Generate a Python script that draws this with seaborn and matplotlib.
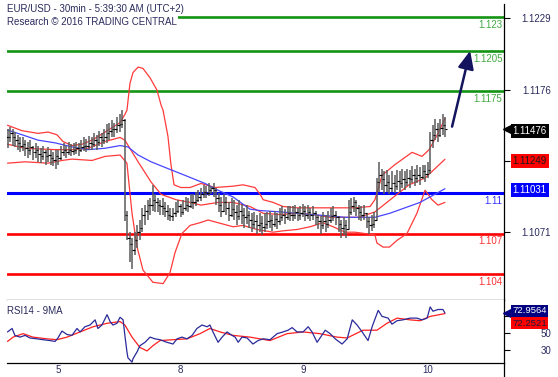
import numpy as np
import pandas as pd
import matplotlib
matplotlib.use("Agg")
import matplotlib.pyplot as plt
import seaborn as sns
from matplotlib.transforms import blended_transform_factory, ScaledTranslation

sns.set_theme(style="white")
plt.rcParams['font.family'] = ['Liberation Sans', 'DejaVu Sans']

# ---- 30 min bars, EUR/USD (bar index 0 = Aug 4 15:00) ----
bar_high = [
    1.1147, 1.1149, 1.1147, 1.1145, 1.1143, 1.1141, 1.1141, 1.1139, 1.1138, 1.1139,
    1.1135, 1.1137, 1.1135, 1.1133, 1.1135, 1.1132, 1.1134, 1.1132, 1.1130, 1.1132,
    1.1132, 1.1135, 1.1137, 1.1135, 1.1138, 1.1136, 1.1137, 1.1138, 1.1137, 1.1139,
    1.1141, 1.1140, 1.1142, 1.1141, 1.1144, 1.1143, 1.1146, 1.1144, 1.1147, 1.1151,
    1.1152, 1.1154, 1.1152, 1.1156, 1.1158, 1.1161, 1.1155, 1.1087, 1.1071, 1.1067,
    1.1071, 1.1076, 1.1080, 1.1089, 1.1091, 1.1095, 1.1096, 1.1106, 1.1099, 1.1096,
    1.1095, 1.1096, 1.1093, 1.1091, 1.1089, 1.1089, 1.1093, 1.1095, 1.1092, 1.1095,
    1.1097, 1.1096, 1.1099, 1.1099, 1.1101, 1.1102, 1.1104, 1.1106, 1.1105, 1.1107,
    1.1105, 1.1107, 1.1104, 1.1100, 1.1097, 1.1099, 1.1097, 1.1093, 1.1096, 1.1095,
    1.1091, 1.1095, 1.1092, 1.1089, 1.1091, 1.1087, 1.1085, 1.1086, 1.1084, 1.1085,
    1.1083, 1.1085, 1.1086, 1.1087, 1.1084, 1.1087, 1.1085, 1.1089, 1.1090, 1.1088,
    1.1090, 1.1090, 1.1090, 1.1091, 1.1089, 1.1090, 1.1092, 1.1090, 1.1091, 1.1089,
    1.1090, 1.1087, 1.1084, 1.1083, 1.1086, 1.1084, 1.1087, 1.1089, 1.1090, 1.1087,
    1.1083, 1.1080, 1.1082, 1.1080, 1.1095, 1.1096, 1.1097, 1.1095, 1.1091, 1.1090,
    1.1091, 1.1085, 1.1082, 1.1084, 1.1086, 1.1111, 1.1123, 1.1118, 1.1116, 1.1117,
    1.1113, 1.1116, 1.1113, 1.1117, 1.1116, 1.1118, 1.1116, 1.1118, 1.1117, 1.1120,
    1.1118, 1.1121, 1.1119, 1.1121, 1.1121, 1.1123, 1.1145, 1.1150, 1.1155, 1.1152,
    1.1155, 1.1158, 1.1156,
]
bar_low = [
    1.1133, 1.1138, 1.1135, 1.1134, 1.1132, 1.1130, 1.1131, 1.1127, 1.1126, 1.1128,
    1.1124, 1.1126, 1.1123, 1.1122, 1.1124, 1.1121, 1.1123, 1.1121, 1.1120, 1.1118,
    1.1121, 1.1124, 1.1127, 1.1126, 1.1128, 1.1127, 1.1128, 1.1129, 1.1127, 1.1130,
    1.1131, 1.1130, 1.1132, 1.1132, 1.1134, 1.1132, 1.1135, 1.1134, 1.1136, 1.1137,
    1.1139, 1.1141, 1.1141, 1.1144, 1.1145, 1.1148, 1.1079, 1.1065, 1.1049, 1.1044,
    1.1054, 1.1059, 1.1065, 1.1071, 1.1076, 1.1080, 1.1084, 1.1087, 1.1086, 1.1086,
    1.1084, 1.1084, 1.1082, 1.1080, 1.1079, 1.1079, 1.1082, 1.1085, 1.1082, 1.1084,
    1.1087, 1.1086, 1.1089, 1.1088, 1.1090, 1.1093, 1.1094, 1.1096, 1.1096, 1.1098,
    1.1099, 1.1097, 1.1091, 1.1086, 1.1082, 1.1086, 1.1084, 1.1079, 1.1082, 1.1080,
    1.1076, 1.1080, 1.1077, 1.1074, 1.1077, 1.1074, 1.1071, 1.1073, 1.1070, 1.1071,
    1.1069, 1.1071, 1.1073, 1.1074, 1.1072, 1.1075, 1.1073, 1.1076, 1.1079, 1.1077,
    1.1080, 1.1079, 1.1079, 1.1081, 1.1079, 1.1080, 1.1082, 1.1079, 1.1081, 1.1079,
    1.1080, 1.1076, 1.1073, 1.1070, 1.1073, 1.1071, 1.1074, 1.1078, 1.1079, 1.1076,
    1.1071, 1.1067, 1.1069, 1.1067, 1.1073, 1.1084, 1.1086, 1.1083, 1.1080, 1.1079,
    1.1080, 1.1074, 1.1070, 1.1072, 1.1074, 1.1080, 1.1101, 1.1102, 1.1099, 1.1101,
    1.1099, 1.1101, 1.1100, 1.1102, 1.1101, 1.1104, 1.1102, 1.1105, 1.1104, 1.1107,
    1.1105, 1.1107, 1.1106, 1.1110, 1.1108, 1.1111, 1.1114, 1.1133, 1.1139, 1.1138,
    1.1141, 1.1143, 1.1141,
]
bar_close = [
    1.1141, 1.1144, 1.1141, 1.1139, 1.1137, 1.1135, 1.1136, 1.1133, 1.1132, 1.1134,
    1.1130, 1.1132, 1.1129, 1.1127, 1.1130, 1.1127, 1.1128, 1.1126, 1.1124, 1.1127,
    1.1126, 1.1130, 1.1132, 1.1130, 1.1132, 1.1131, 1.1132, 1.1133, 1.1132, 1.1134,
    1.1135, 1.1135, 1.1137, 1.1136, 1.1139, 1.1138, 1.1141, 1.1139, 1.1141, 1.1144,
    1.1146, 1.1147, 1.1147, 1.1150, 1.1151, 1.1154, 1.1084, 1.1067, 1.1062, 1.1058,
    1.1065, 1.1071, 1.1074, 1.1084, 1.1087, 1.1091, 1.1091, 1.1095, 1.1093, 1.1091,
    1.1090, 1.1089, 1.1087, 1.1084, 1.1083, 1.1085, 1.1087, 1.1090, 1.1086, 1.1089,
    1.1091, 1.1090, 1.1093, 1.1093, 1.1095, 1.1097, 1.1099, 1.1101, 1.1100, 1.1102,
    1.1104, 1.1102, 1.1096, 1.1091, 1.1087, 1.1093, 1.1089, 1.1084, 1.1088, 1.1086,
    1.1083, 1.1087, 1.1084, 1.1082, 1.1084, 1.1080, 1.1077, 1.1079, 1.1076, 1.1078,
    1.1075, 1.1077, 1.1079, 1.1080, 1.1077, 1.1081, 1.1079, 1.1082, 1.1084, 1.1082,
    1.1085, 1.1084, 1.1084, 1.1086, 1.1084, 1.1085, 1.1087, 1.1084, 1.1086, 1.1084,
    1.1085, 1.1082, 1.1079, 1.1076, 1.1079, 1.1077, 1.1080, 1.1083, 1.1084, 1.1082,
    1.1077, 1.1074, 1.1076, 1.1073, 1.1086, 1.1090, 1.1093, 1.1089, 1.1086, 1.1084,
    1.1085, 1.1079, 1.1076, 1.1077, 1.1080, 1.1108, 1.1113, 1.1110, 1.1106, 1.1108,
    1.1104, 1.1107, 1.1105, 1.1109, 1.1107, 1.1110, 1.1108, 1.1111, 1.1110, 1.1113,
    1.1111, 1.1113, 1.1112, 1.1116, 1.1114, 1.1117, 1.1139, 1.1143, 1.1147, 1.1143,
    1.1148, 1.1150, 1.11476,
]

# Bollinger bands (at bar positions)
upper_idx = [0, 5.7, 12, 15.9, 19.4, 21.8, 25.3, 29.3, 33.2, 38.3,
             44.2, 46.1, 46.9, 48.1, 49.3, 51.3, 53.2, 56, 58.7, 60.3,
             61.1, 63, 64.2, 65.4, 68.1, 71.7, 76, 81.5, 88.6, 92.5,
             97.2, 99.2, 100.4, 104.3, 108.2, 113.7, 118.8, 126.7, 132.6, 136.5,
             142.4, 144.3, 147.1, 152.2, 158.9, 162.8, 165.6, 169.1, 171.8]
upper_val = [1.1150, 1.1146, 1.1144, 1.1145, 1.1143, 1.1138, 1.1135, 1.1136, 1.1139, 1.1145,
             1.1152, 1.1158, 1.1161, 1.1181, 1.1189, 1.1193, 1.1192, 1.1185, 1.1176, 1.1165,
             1.1161, 1.1142, 1.1121, 1.1106, 1.1104, 1.1104, 1.1107, 1.1104, 1.1105, 1.1106,
             1.1104, 1.1099, 1.1095, 1.1093, 1.1090, 1.1089, 1.1089, 1.1089, 1.1089, 1.1089,
             1.1090, 1.1095, 1.1113, 1.1121, 1.1130, 1.1127, 1.1132, 1.1144, 1.1155]
mid_idx = [0, 6.9, 18.7, 25.3, 31.6, 38.3, 44.2, 46.1, 51.3, 56.4,
           60.3, 66.2, 71.7, 76, 82.7, 88.6, 95.2, 100.4, 107.1, 113.7,
           120, 126.7, 132.6, 138.1, 144.3, 151, 157.7, 164, 171.8]
mid_val = [1.1136, 1.1133, 1.1132, 1.1132, 1.1133, 1.1138, 1.1141, 1.1139, 1.1123, 1.1108,
           1.1099, 1.1095, 1.1093, 1.1091, 1.1093, 1.1093, 1.1090, 1.1085, 1.1084, 1.1085,
           1.1084, 1.1082, 1.1082, 1.1082, 1.1086, 1.1096, 1.1106, 1.1111, 1.11249]
lower_idx = [0, 6.9, 15.9, 21.4, 25.3, 33.2, 38.3, 44.2, 46.9, 48.9,
             50.9, 53.2, 57.1, 61.1, 63.8, 65.8, 68.5, 71.7, 75.6, 78.8,
             82.7, 88.6, 92.5, 98, 104.3, 108.2, 113.7, 118.8, 123.9, 127.9,
             132.6, 136.5, 144.3, 145.1, 147.5, 150, 153, 156.9, 160.8, 164,
             166.7, 169.1, 171.8]
lower_val = [1.1122, 1.1123, 1.1122, 1.1124, 1.1125, 1.1124, 1.1127, 1.1128, 1.1122, 1.1085,
             1.1060, 1.1043, 1.1034, 1.1033, 1.1041, 1.1056, 1.1070, 1.1076, 1.1078, 1.1080,
             1.1078, 1.1075, 1.1076, 1.1073, 1.1071, 1.1072, 1.1073, 1.1075, 1.1078, 1.1075,
             1.1071, 1.1071, 1.1069, 1.1063, 1.1060, 1.1060, 1.1065, 1.1070, 1.1085, 1.1102,
             1.1095, 1.1091, 1.1093]
# slow moving average (blue)
ma_idx = [0, 5.7, 12, 18.7, 25.3, 31.6, 38.3, 44.2, 47.3, 51.3,
          56.4, 63, 69.7, 77.6, 82.7, 88.6, 95.2, 99.2, 107.1, 120,
          132.6, 144.3, 150.2, 162, 171.8]
ma_val = [1.11465, 1.1143, 1.1139, 1.1137, 1.1134, 1.1132, 1.1133, 1.1135, 1.1134, 1.1128,
          1.1123, 1.1118, 1.1113, 1.1107, 1.1102, 1.1097, 1.1088, 1.1087, 1.1086, 1.1084,
          1.1082, 1.1082, 1.1085, 1.1093, 1.11031]

# RSI14 and its 9MA
rsi_idx = [0, 1.8, 2.9, 4.9, 6.9, 8.8, 11.6, 13.9, 16.7, 18.7,
           19.8, 21.4, 23.4, 25.3, 27.3, 28.5, 30.4, 32.4, 34.4, 35.5,
           37.1, 39.1, 40.3, 41.4, 43, 44.2, 45.4, 46.1, 46.9, 47.3,
           48.9, 49.3, 50.9, 52, 54, 56, 57.9, 59.9, 62.6, 65,
           66.6, 68.5, 70.5, 72.5, 74.4, 76.4, 78.4, 79.5, 80.7, 82.7,
           84.3, 86.2, 88.2, 89.4, 90.6, 92.1, 94.1, 96.4, 98.4, 100.4,
           103.1, 105.9, 108.2, 110.2, 111.8, 113.7, 116.1, 118.1, 119.6, 121.6,
           124.8, 126.7, 128.7, 131.4, 133.4, 135.4, 137.3, 139.3, 141.6, 143.2,
           145.6, 147.1, 149.5, 151, 153, 155.3, 158.1, 160.8, 162.8, 164.8,
           166, 167.1, 169.1, 171, 171.8]
rsi_val = [51, 55, 47, 45, 47, 44, 43, 42, 41, 40,
           44, 52, 48, 47, 55, 51, 57, 59, 65, 55,
           59, 71, 63, 59, 61, 68, 65, 47, 28, 21,
           16, 20, 28, 35, 39, 45, 43, 42, 39, 37,
           43, 45, 43, 47, 55, 59, 57, 59, 51, 39,
           45, 51, 47, 45, 39, 45, 44, 37, 41, 43,
           42, 49, 51, 53, 56, 51, 51, 57, 51, 39,
           53, 49, 43, 37, 43, 65, 59, 51, 41, 57,
           76, 69, 67, 60, 64, 65, 67, 67, 65, 67,
           80, 75, 77, 77, 72.9564]
rsima_idx = [0, 2.2, 6.1, 10, 15.5, 19.4, 23.4, 28.5, 33.6, 39.1,
             44.2, 46.1, 48.9, 52, 54.8, 57.1, 59.9, 65, 70.5, 75.6,
             79.5, 83.5, 88.6, 95.2, 103.1, 109.8, 116.1, 122.7, 129.4, 133.4,
             139.6, 145.1, 149, 153, 158.1, 162, 166, 171.8]
rsima_val = [40, 45, 49, 45, 43, 42, 45, 51, 57, 61,
             63, 59, 45, 33, 29, 35, 41, 42, 43, 49,
             55, 51, 47, 45, 41, 49, 51, 49, 45, 44,
             53, 53, 61, 67, 65, 64, 69, 72.2521]

# support / resistance levels
levels = [1.123, 1.1205, 1.1175, 1.11, 1.107, 1.104]
level_labels = ["1.123", "1.1205", "1.1175", "1.11", "1.107", "1.104"]
level_colors = ["#139413", "#139413", "#139413", "#0000ff", "#ff0000", "#ff0000"]
target_level = 1.1205

day_ticks = [18, 66, 114, 162]
day_labels = ["5", "8", "9", "10"]
price_ticks = [1.1229, 1.1176, 1.11235, 1.1071]
price_tick_labels = ["1.1229", "1.1176", "", "1.1071"]

TXT = "#2b2b5e"
FS = 7.0

fig = plt.figure(figsize=(5.58, 3.77), dpi=100)
W, H = 558, 377
ax = fig.add_axes([7 / W, 1 - 300 / H, (504 - 7) / W, (300 - 4) / H])
ax2 = fig.add_axes([7 / W, 1 - 363 / H, (504 - 7) / W, (363 - 300) / H], sharex=ax)

# level lines
for lv, lab, col in zip(levels, level_labels, level_colors):
    ax.axhline(lv, color=col, lw=2.2 if col == "#0000ff" else 1.9, zorder=1)
    ax.annotate(lab, xy=(0.997, lv), xycoords=blended_transform_factory(ax.transAxes, ax.transData),
                xytext=(0, -2), textcoords="offset points", ha="right", va="top",
                color=col, fontsize=FS, alpha=0.8)

# bands and MA
bands = pd.DataFrame({"x": upper_idx, "y": upper_val})
sns.lineplot(data=bands, x="x", y="y", ax=ax, color="#ff3a3a", lw=0.9, estimator=None, sort=False, zorder=2)
sns.lineplot(x=mid_idx, y=mid_val, ax=ax, color="#ff3a3a", lw=0.9, estimator=None, sort=False, zorder=2)
sns.lineplot(x=lower_idx, y=lower_val, ax=ax, color="#ff3a3a", lw=0.9, estimator=None, sort=False, zorder=2)
sns.lineplot(x=ma_idx, y=ma_val, ax=ax, color="#4646ff", lw=0.9, estimator=None, sort=False, zorder=2)

# OHLC bars
idx = np.arange(len(bar_close))
close = np.array(bar_close)
opens = np.r_[close[0], close[:-1]]
ax.vlines(idx, bar_low, bar_high, color="#5a5a5a", lw=1.1, zorder=3)
ax.hlines(opens, idx - 0.6, idx, color="black", lw=0.8, zorder=4)
ax.hlines(close, idx, idx + 0.6, color="black", lw=0.8, zorder=4)

# forecast arrow
ax.annotate("", xy=(181.7, target_level), xytext=(174.6, 1.1149),
            arrowprops=dict(arrowstyle="-|>,head_length=0.9,head_width=0.4",
                            color="#14145e", lw=1.8, shrinkA=0, shrinkB=0), zorder=5)

ax.set_xlim(-0.2, 195)
ax.set_ylim(1.10209, 1.12396)
ax.set_xlabel("")
ax.set_ylabel("")

# right side price tags
tr = blended_transform_factory(ax.transAxes, ax.transData)
def tag(axis, trans, yval, text, fc, tc, arrow=False, dy=0, pad=0.2, fs=FS):
    axis.annotate(text, xy=(1.017, yval), xycoords=trans, xytext=(0, dy), textcoords="offset points",
                  ha="left", va="center", fontsize=fs, color=tc, zorder=8, annotation_clip=False,
                  bbox=dict(boxstyle="square,pad=%s" % pad, fc=fc, ec="none"))
    if arrow:
        axis.plot([1.009], [yval], marker="<", ms=6.5, color=fc, transform=trans,
                  clip_on=False, zorder=8)

tag(ax, tr, bar_close[-1], "1.11476", "black", "white", arrow=True, dy=-1.5)
tag(ax, tr, mid_val[-1], "1.11249", "#ff0000", "#1a1a1a", dy=-1.5)
tag(ax, tr, ma_val[-1], "1.11031", "#0000ff", "white", dy=-1)

# RSI panel
sns.lineplot(x=rsima_idx, y=rsima_val, ax=ax2, color="#ff2020", lw=0.9, estimator=None, sort=False)
sns.lineplot(x=rsi_idx, y=rsi_val, ax=ax2, color="#2a2a9a", lw=0.9, estimator=None, sort=False)
ax2.set_ylim(15, 88)
ax2.set_xlabel("")
ax2.set_ylabel("")
tr2 = blended_transform_factory(ax2.transAxes, ax2.transData)
tag(ax2, tr2, rsi_val[-1], "72.9564", "#000080", "white", arrow=True, dy=1.5, pad=0.15, fs=6.8)
tag(ax2, tr2, rsima_val[-1], "72.2521", "#ff0000", "#1a1a40", dy=-6.8, pad=0.15, fs=6.8)
ax2.text(0.0, 0.83, "RSI14 - 9MA", transform=ax2.transAxes, fontsize=FS, color=TXT, va="center")

for a in (ax, ax2):
    a.set_facecolor("white")
    for s in ("top", "left"):
        a.spines[s].set_visible(False)
    for s in ("right", "bottom"):
        a.spines[s].set_color("black")
        a.spines[s].set_linewidth(0.9)
    a.yaxis.tick_right()
    a.tick_params(axis="y", direction="out", length=4, width=0.8, color="black",
                  labelsize=FS, labelcolor=TXT, pad=30)
    a.grid(False)

ax.set_yticks(price_ticks)
ax.set_yticklabels(price_tick_labels)
ax.tick_params(axis="x", bottom=False, labelbottom=False)
ax2.set_yticks([30, 50, 70])
ax2.set_yticklabels(["30", "50", ""])
for a in (ax, ax2):
    for lab in a.get_yticklabels():
        lab.set_horizontalalignment("right")

ax2.set_xticks(day_ticks)
ax2.set_xticklabels(day_labels)
ax2.tick_params(axis="x", direction="out", length=4, width=0.8, color="black",
                labelsize=FS, labelcolor=TXT, pad=0)
shift = ScaledTranslation(2.5 / 100, 4 / 100, fig.dpi_scale_trans)
for lab in ax2.get_xticklabels():
    lab.set_horizontalalignment("left")
    lab.set_transform(lab.get_transform() + shift)

# right border continues to the bottom edge
fig.add_artist(plt.Line2D([504 / W, 504 / W], [0, 1 - 363 / H], color="black", lw=0.9))

fig.text(7 / W, 1 - 9 / H, "EUR/USD - 30min - 5:39:30 AM (UTC+2)", fontsize=FS, color=TXT, va="center")
fig.text(7 / W, 1 - 22 / H, "Research \u00a9 2016 TRADING CENTRAL", fontsize=FS, color=TXT, va="center",
         bbox=dict(boxstyle="square,pad=0.1", fc="white", ec="none"))

fig.savefig("out.png", dpi=100, facecolor="white")
